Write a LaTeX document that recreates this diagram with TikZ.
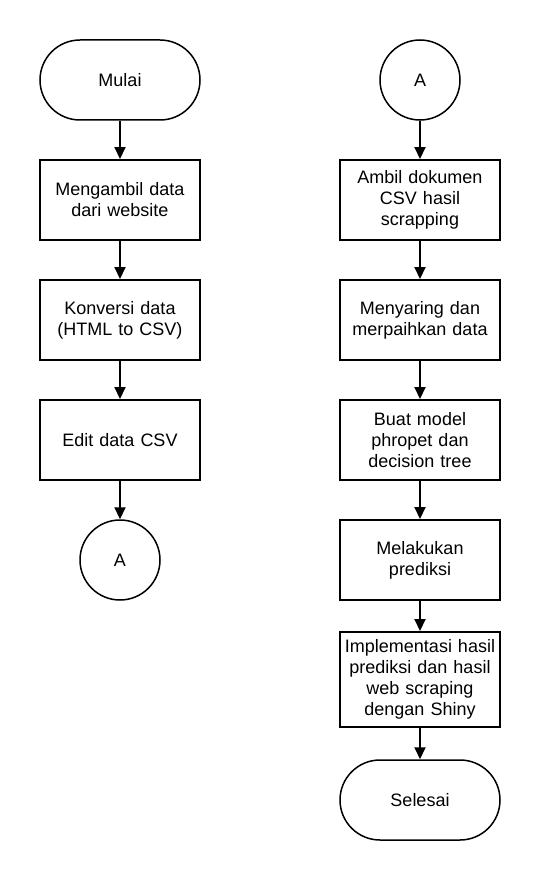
\documentclass[tikz,border=0pt]{standalone}
\usepackage{fontspec}
\setmainfont{Liberation Sans}
\usetikzlibrary{arrows.meta,positioning}
\newcommand{\fsz}{\fontsize{18}{21}\selectfont}

\begin{document}
\begin{tikzpicture}[x=1pt,y=-1pt,
  proc/.style={draw,line width=2pt,minimum width=160pt,minimum height=80pt,
    text width=158pt,inner sep=0pt,align=center,font=\fsz},
  term/.style={draw,line width=1.5pt,rounded corners=40pt,minimum width=160pt,
    minimum height=80pt,font=\fsz},
  conn/.style={draw,circle,line width=1.5pt,minimum size=80pt,inner sep=0pt,font=\fsz},
  flow/.style={line width=2pt,-{Triangle[length=12pt,width=11pt]}}]
  \useasboundingbox (0,0) rectangle (540,880);
  % left column
  \node[term] (mulai) at (120,80) {Mulai};
  \node[proc] (ambil) at (120,200) {Mengambil data\\dari website};
  \node[proc] (konversi) at (120,320) {Konversi data\\(HTML to CSV)};
  \node[proc] (edit) at (120,440) {Edit data CSV};
  \node[conn] (ka) at (120,560) {A};
  % right column
  \node[conn] (kb) at (420,80) {A};
  \node[proc] (dokumen) at (420,200) {Ambil dokumen\\CSV hasil\\scrapping};
  \node[proc] (saring) at (420,320) {Menyaring dan\\merpaihkan data};
  \node[proc] (model) at (420,440) {Buat model\\phropet dan\\decision tree};
  \node[proc] (prediksi) at (420,560) {Melakukan\\prediksi};
  \node[proc,minimum height=95pt] (impl) at (420,679.5)
    {Implementasi hasil\\prediksi dan hasil\\web scraping\\dengan Shiny};
  \node[term] (selesai) at (420,800) {Selesai};
  % arrows
  \foreach \a/\b in {mulai/ambil,ambil/konversi,konversi/edit,edit/ka,
      kb/dokumen,dokumen/saring,saring/model,model/prediksi,prediksi/impl,impl/selesai}
    \draw[flow] (\a) -- (\b);
\end{tikzpicture}
\end{document}
